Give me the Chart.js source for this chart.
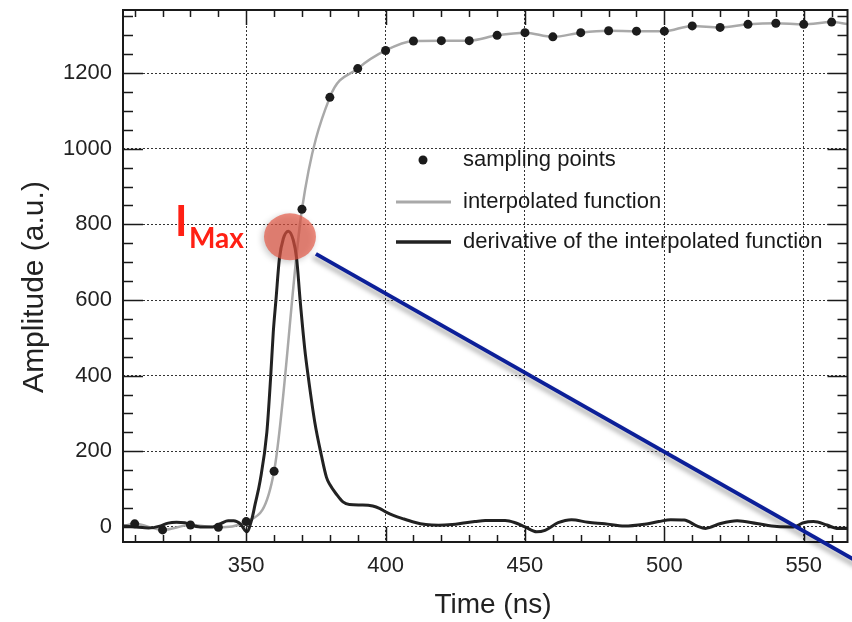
<!DOCTYPE html>
<html lang="en">
<head>
<meta charset="UTF-8">
<title>Sampling points and derivative</title>
<script src="https://cdn.jsdelivr.net/npm/chart.js@4"></script>
<style>
  html, body { margin: 0; padding: 0; background: #fff; }
  #wrap { width: 852px; height: 622px; position: relative; }
</style>
</head>
<body>
<div id="wrap"><canvas id="chart" width="852" height="622"></canvas></div>
<script>
// sampling points, one every 10 ns
const sampleTimes = [310, 320, 330, 340, 350, 360, 370, 380, 390, 400, 410, 420, 430,
                     440, 450, 460, 470, 480, 490, 500, 510, 520, 530, 540, 550, 560];
const sampleAmps = [8, -8, 5, -1, 14, 147, 840, 1136, 1212, 1260, 1285, 1286, 1286,
                    1300, 1307, 1296, 1307, 1312, 1311, 1311, 1325, 1321, 1329, 1332, 1329, 1335];

// the interpolated curve runs on a bit past the first and last sample
const interpEdgeTimes = [305.8, 565.7];
const interpEdgeAmps = [2, 1330];

// derivative of the interpolated function
const derivTimes = [306, 310, 315, 319, 322, 325, 328, 330, 333.5, 338, 341, 343.5, 345.5, 348,
                    350.2, 352, 353.2, 355, 357.4, 358.8, 359.7, 360.7, 361.9, 363.3, 365.1,
                    366.9, 368.1, 369.3, 371, 372.2, 374.6, 377, 378.8, 380, 382.3, 384.7, 387,
                    391.8, 395.4, 398, 400.2, 403, 406.1, 410, 414.4, 419, 423.9, 428.7, 432,
                    435.8, 442.9, 446.5, 450, 454.2, 457.2, 461.9, 466.7, 472.6, 478.6, 485.7,
                    492.9, 498, 502.3, 507.1, 511.8, 514.8, 520.2, 526.1, 533.2, 540.4, 546.3,
                    549.9, 553.5, 558.3, 561.8, 565.7];
const derivAmps = [2, 0, -3, 2, 10, 12, 11, 5, 0, 0, 9, 16, 16, 7,
                   -13, 20, 60, 122, 250, 400, 514, 603, 709, 762, 782,
                   758, 709, 603, 471, 400, 277, 188, 131, 112, 87, 66, 59,
                   58, 55, 48, 39, 30, 22, 13, 6, 4, 6, 11, 14,
                   17, 17, 11, 0, -13, -9, 11, 19, 12, 8, 2,
                   7, 14, 19, 18, 2, -4, 9, 16, 9, 1, 0,
                   11, 14, 5, -4, -4];

const xTicks = [350, 400, 450, 500, 550];
const yTicks = [0, 200, 400, 600, 800, 1000, 1200];
const xMinorStep = 10;
const yMinorStep = 50;

// I_Max marker and pointer line, in data units
const imaxCenter = [365.7, 767];
const pointerFrom = [375, 722];
const pointerTo = [570, -95];

const FONT = '"Liberation Sans", Arial, sans-serif';

function toPoints(xs, ys) {
    return xs.map((x, i) => ({ x: x, y: ys[i] }));
}

const interpData = toPoints(
    [interpEdgeTimes[0], ...sampleTimes, interpEdgeTimes[1]],
    [interpEdgeAmps[0], ...sampleAmps, interpEdgeAmps[1]]
);

// frame + inward ticks on all four sides
const framePlugin = {
    id: 'frame',
    afterDatasetsDraw(chart) {
        const { ctx, chartArea: a, scales: { x, y } } = chart;
        ctx.save();
        ctx.strokeStyle = '#1a1a1a';
        ctx.lineWidth = 1.5;
        ctx.beginPath();
        const xStart = Math.ceil(x.min / xMinorStep) * xMinorStep;
        for (let v = xStart; v <= x.max; v += xMinorStep) {
            const px = Math.round(x.getPixelForValue(v)) + 0.5;
            const len = v % 50 === 0 ? 15 : 7;
            ctx.moveTo(px, a.bottom); ctx.lineTo(px, a.bottom - len);
            ctx.moveTo(px, a.top); ctx.lineTo(px, a.top + len);
        }
        const yStart = Math.ceil(y.min / yMinorStep) * yMinorStep;
        for (let v = yStart; v <= y.max; v += yMinorStep) {
            const py = Math.round(y.getPixelForValue(v)) + 0.5;
            const len = v % 200 === 0 ? 20 : 10;
            ctx.moveTo(a.left, py); ctx.lineTo(a.left + len, py);
            ctx.moveTo(a.right, py); ctx.lineTo(a.right - len, py);
        }
        ctx.stroke();
        ctx.lineWidth = 2;
        ctx.strokeRect(a.left, a.top, a.right - a.left, a.bottom - a.top);
        ctx.restore();
    }
};

// axis titles, legend inside the plot, I_Max annotation
const notesPlugin = {
    id: 'notes',
    afterDraw(chart) {
        const { ctx, scales: { x, y } } = chart;
        ctx.save();

        // axis titles
        ctx.fillStyle = '#222';
        ctx.textAlign = 'center';
        ctx.textBaseline = 'alphabetic';
        ctx.font = '28px ' + FONT;
        ctx.fillText('Time (ns)', 493, 613);
        ctx.save();
        ctx.translate(43, 287);
        ctx.rotate(-Math.PI / 2);
        ctx.font = '30px ' + FONT;
        ctx.fillText('Amplitude (a.u.)', 0, 0);
        ctx.restore();
        ctx.textAlign = 'left';

        // legend
        ctx.font = '22px ' + FONT;
        ctx.fillStyle = '#1a1a1a';
        ctx.textBaseline = 'middle';
        ctx.fillText('sampling points', 463, 160);
        ctx.fillText('interpolated function', 463, 202);
        ctx.fillText('derivative of the interpolated function', 463, 242);
        ctx.beginPath();
        ctx.arc(423, 160, 4.5, 0, Math.PI * 2);
        ctx.fill();
        ctx.lineWidth = 3;
        ctx.strokeStyle = '#a9a9a9';
        ctx.beginPath(); ctx.moveTo(396, 202); ctx.lineTo(451, 202); ctx.stroke();
        ctx.lineWidth = 3.5;
        ctx.strokeStyle = '#222';
        ctx.beginPath(); ctx.moveTo(396, 242); ctx.lineTo(451, 242); ctx.stroke();

        // translucent marker on the peak
        const cx = x.getPixelForValue(imaxCenter[0]);
        const cy = y.getPixelForValue(imaxCenter[1]);
        ctx.save();
        ctx.shadowColor = 'rgba(0,0,0,0.3)';
        ctx.shadowBlur = 6;
        ctx.shadowOffsetX = -2;
        ctx.shadowOffsetY = 2;
        ctx.fillStyle = 'rgba(228, 86, 66, 0.68)';
        ctx.beginPath();
        ctx.ellipse(cx, cy, 26, 23.5, 0, 0, Math.PI * 2);
        ctx.fill();
        ctx.restore();

        // blue pointer line
        ctx.save();
        ctx.shadowColor = 'rgba(0,0,0,0.35)';
        ctx.shadowBlur = 5;
        ctx.shadowOffsetX = -3;
        ctx.shadowOffsetY = 3;
        ctx.strokeStyle = '#0c1f98';
        ctx.lineWidth = 4;
        ctx.beginPath();
        ctx.moveTo(x.getPixelForValue(pointerFrom[0]), y.getPixelForValue(pointerFrom[1]));
        ctx.lineTo(x.getPixelForValue(pointerTo[0]), y.getPixelForValue(pointerTo[1]));
        ctx.stroke();
        ctx.restore();

        // I_Max label
        ctx.fillStyle = '#ff2014';
        ctx.textBaseline = 'alphabetic';
        ctx.font = 'bold 42px Lato, ' + FONT;
        ctx.fillText('I', 175, 236);
        ctx.font = 'bold 28px Lato, ' + FONT;
        ctx.fillText('Max', 189, 248);

        ctx.restore();
    }
};

new Chart(document.getElementById('chart'), {
    type: 'line',
    data: {
        datasets: [
            {
                label: 'sampling points',
                data: toPoints(sampleTimes, sampleAmps),
                showLine: false,
                pointRadius: 4.5,
                pointBackgroundColor: '#1c1c1c',
                pointBorderWidth: 0
            },
            {
                label: 'derivative of the interpolated function',
                data: toPoints(derivTimes, derivAmps),
                borderColor: '#222',
                borderWidth: 3,
                pointRadius: 0,
                cubicInterpolationMode: 'monotone'
            },
            {
                label: 'interpolated function',
                data: interpData,
                borderColor: '#a9a9a9',
                borderWidth: 2.5,
                pointRadius: 0,
                cubicInterpolationMode: 'monotone'
            }
        ]
    },
    options: {
        responsive: false,
        animation: false,
        layout: { padding: { top: 10, right: 1, left: 0, bottom: 0 } },
        plugins: {
            legend: { display: false },
            tooltip: { enabled: false }
        },
        scales: {
            x: {
                type: 'linear',
                min: 305.8,
                max: 565.7,
                afterBuildTicks: s => { s.ticks = xTicks.map(v => ({ value: v })); },
                afterFit: s => { s.height = 80; s.paddingLeft = 0; s.paddingRight = 0; },
                grid: { color: '#333', lineWidth: 1, drawTicks: false },
                border: { display: false, dash: [2, 2] },
                ticks: { color: '#222', font: { size: 22, family: FONT }, padding: 11, maxRotation: 0,
                         callback: v => String(v) }
            },
            y: {
                min: -40,
                max: 1367,
                afterBuildTicks: s => { s.ticks = yTicks.map(v => ({ value: v })); },
                afterFit: s => { s.width = 123; s.paddingTop = 0; s.paddingBottom = 0; },
                grid: { color: '#333', lineWidth: 1, drawTicks: false },
                border: { display: false, dash: [2, 2] },
                ticks: { color: '#222', font: { size: 22, family: FONT }, padding: 11,
                         callback: v => String(v) }
            }
        }
    },
    plugins: [framePlugin, notesPlugin]
});
</script>
</body>
</html>
